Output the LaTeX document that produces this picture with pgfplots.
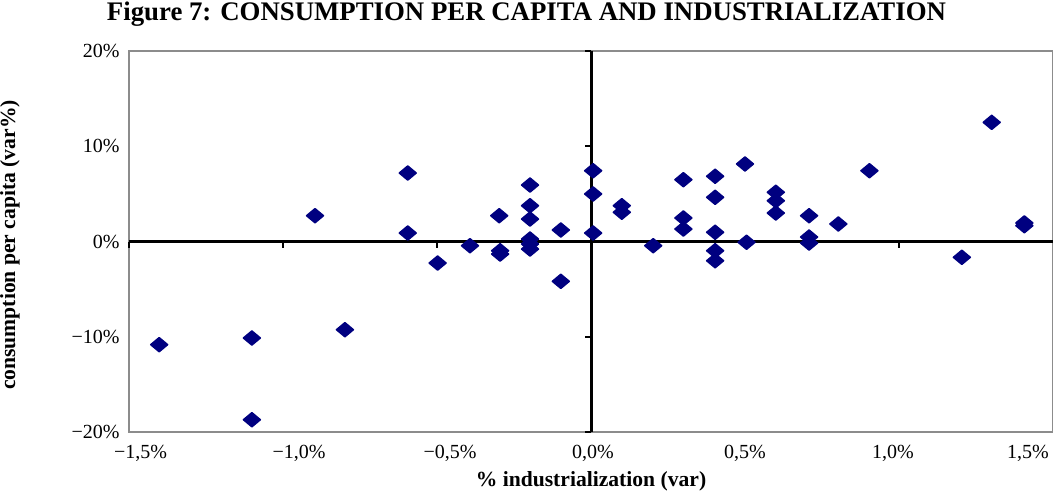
\documentclass[border=0pt]{standalone}
\usepackage{fontspec}
\setmainfont{Liberation Serif}
\usepackage{pgfplots}
\pgfplotsset{compat=1.18}
\definecolor{navy}{HTML}{000080}
\definecolor{framegray}{HTML}{8C8C8C}
\pgfdeclareplotmark{xdiamond}{%
  \pgfpathmoveto{\pgfqpoint{0pt}{3.5pt}}%
  \pgfpathlineto{\pgfqpoint{4.2pt}{0pt}}%
  \pgfpathlineto{\pgfqpoint{0pt}{-3.5pt}}%
  \pgfpathlineto{\pgfqpoint{-4.2pt}{0pt}}%
  \pgfpathclose\pgfusepathqfillstroke}
\pgfplotstableread{
x y
-1.402 -10.83
-1.101 -10.13
-1.101 -18.71
-0.799 -9.26
-0.896 2.71
-0.595 7.19
-0.595 0.89
-0.498 -2.26
-0.393 -0.44
-0.298 2.71
-0.295 -0.97
-0.295 -1.32
-0.198 5.93
-0.198 3.76
-0.198 2.36
-0.198 0.26
-0.198 -0.26
-0.198 -0.79
-0.098 1.21
-0.098 -4.18
0.007 7.43
0.007 4.99
0.007 0.89
0.100 3.76
0.100 3.07
0.202 -0.44
0.300 6.49
0.300 2.47
0.300 1.31
0.403 6.85
0.403 4.64
0.403 0.97
0.403 -0.97
0.403 -2.02
0.500 8.14
0.505 -0.08
0.600 5.17
0.600 4.28
0.600 2.99
0.708 2.71
0.708 0.47
0.708 -0.16
0.803 1.84
0.904 7.43
1.204 -1.66
1.301 12.51
1.407 1.66
1.407 1.95
}\datatable
\begin{document}
\begin{tikzpicture}
\begin{axis}[
  name=ax,
  scale only axis, width=462pt, height=190.5pt,
  xmin=-1.5, xmax=1.5, ymin=-20, ymax=20,
  axis line style={framegray, line width=1pt},
  xtick={-1.5,-1,-0.5,0,0.5,1,1.5},
  xticklabels={{\hspace*{11.5pt}−1,5\%},{\hspace*{16pt}−1,0\%},{\hspace*{13pt}−0,5\%},{\hspace*{2pt}0,0\%},{0,5\%},{1,0\%\hspace*{6pt}},{1,5\%\hspace*{25pt}}},
  ytick={-20,-10,0,10,20},
  yticklabels={−20\%,−10\%,0\%,10\%,20\%},
  major tick length=0pt,
  tick label style={font=\fontsize{10}{12}\selectfont},
  xticklabel style={yshift=-3pt},
  yticklabel style={xshift=-1.2pt},
  clip=false,
]
\draw[black, line width=1.5pt] (axis cs:-1.5,0) -- (axis cs:1.5,0);
\draw[black, line width=1.5pt] (axis cs:0,-20) -- (axis cs:0,20);
\pgfplotsinvokeforeach{-1.5,-1,-0.5,0.5,1}{\draw[black, line width=1pt] (axis cs:#1,0) -- ([yshift=-3pt]axis cs:#1,0);}
\pgfplotsinvokeforeach{-20,-10,10,20}{\draw[black, line width=1pt] (axis cs:0,#1) -- ([xshift=-3pt]axis cs:0,#1);}
\addplot[only marks, mark=xdiamond, draw=navy, fill=navy, mark options={line width=0.8pt, line join=round}] table[x=x, y=y] {\datatable};
\end{axis}
\path (ax.south west) ++(198.75pt,206pt) node[anchor=base, inner sep=0pt, font=\fontsize{13.4}{16}\selectfont\bfseries] {Figure 7: CONSUMPTION PER CAPITA AND INDUSTRIALIZATION};
\path (ax.south west) ++(231pt,-24.5pt) node[anchor=center, inner sep=0pt, font=\fontsize{10.8}{13}\selectfont\bfseries] {\% industrialization (var)};
\path (ax.south west) ++(-59.5pt,93.5pt) node[anchor=center, rotate=90, inner sep=0pt, font=\fontsize{10.8}{13}\selectfont\bfseries] {consumption per capita (var\%)};
\pgfresetboundingbox
\path[use as bounding box] (ax.south west) ++(-64.5pt,-31.5pt) rectangle ++(526.5pt,247.5pt);
\end{tikzpicture}
\end{document}
